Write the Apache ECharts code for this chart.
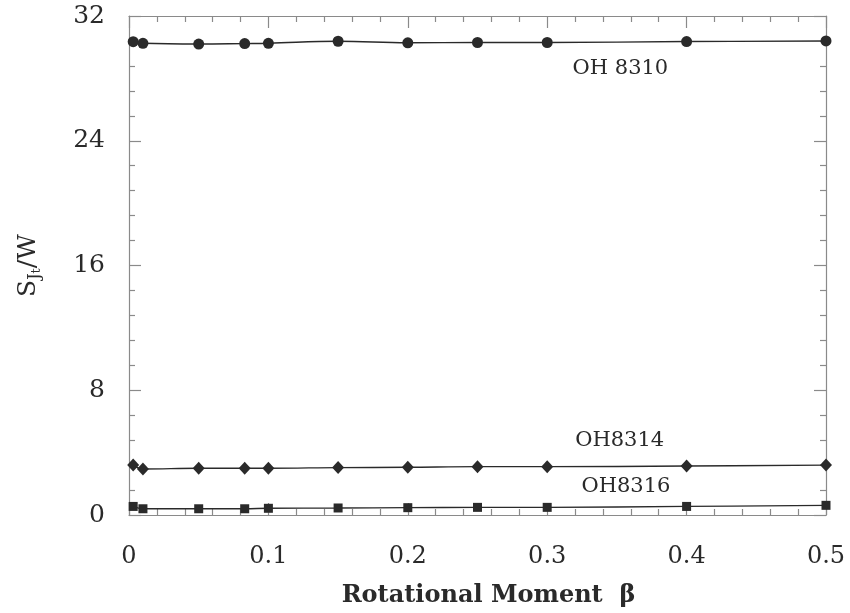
<!DOCTYPE html>
<html>
<head>
<meta charset="utf-8">
<script src="https://cdn.jsdelivr.net/npm/echarts@6/dist/echarts.min.js"></script>
<style>html,body{margin:0;padding:0;background:#fff;}#c{width:850px;height:613px;}</style>
</head>
<body>
<div id="c"></div>
<script>
// Data
const betaValues = [0.003, 0.01, 0.05, 0.083, 0.1, 0.15, 0.2, 0.25, 0.3, 0.4, 0.5];
const oh8310 = [30.35, 30.25, 30.2, 30.23, 30.25, 30.38, 30.28, 30.3, 30.3, 30.36, 30.4];
const oh8314 = [3.2, 2.95, 3.0, 3.0, 3.0, 3.04, 3.06, 3.1, 3.1, 3.14, 3.2];
const oh8316 = [0.55, 0.4, 0.4, 0.4, 0.43, 0.45, 0.47, 0.49, 0.49, 0.55, 0.62];
const seriesNames = ['OH 8310', 'OH8314', 'OH8316'];
const xTickLabels = ['0', '0.1', '0.2', '0.3', '0.4', '0.5'];
const yTickLabels = ['0', '8', '16', '24', '32'];

const FONT = 'DejaVu Serif';
const INK = '#2a2a2a';
const AXIS = '#8a8a8a';

function pairs(ys) { return betaValues.map((x, i) => [x, ys[i]]); }

function axisParts() {
  return {
    axisLine: { show: true, onZero: false, lineStyle: { color: AXIS, width: 1.2 } },
    axisTick: { show: true, inside: true, length: 12, lineStyle: { color: AXIS, width: 1.2 } },
    minorTick: { show: true, splitNumber: 5, length: 6, lineStyle: { color: AXIS, width: 1.2 } },
    splitLine: { show: false },
    minorSplitLine: { show: false }
  };
}

function xAxisDef(extra) {
  return Object.assign(axisParts(), { type: 'value', min: 0, max: 0.5, interval: 0.1 }, extra);
}
function yAxisDef(extra) {
  return Object.assign(axisParts(), { type: 'value', min: 0, max: 32, interval: 8 }, extra);
}

function labelMark(text, coord) {
  return {
    symbol: 'circle', symbolSize: 0,
    label: { show: true, position: 'inside', formatter: text, fontFamily: FONT, fontSize: 21, color: INK },
    data: [{ coord: coord }]
  };
}

function lineSeries(name, ys, symbol, size, labelCoord) {
  return {
    name: name, type: 'line', data: pairs(ys), smooth: 0.4,
    symbol: symbol, symbolSize: size, showSymbol: true,
    xAxisIndex: 0, yAxisIndex: 0,
    lineStyle: { color: INK, width: 1.4 },
    itemStyle: { color: INK },
    emphasis: { disabled: true },
    markPoint: labelMark(name, labelCoord),
    z: 3
  };
}

const chart = echarts.init(document.getElementById('c'), null, { renderer: 'canvas' });
chart.setOption({
  animation: false,
  backgroundColor: '#ffffff',
  grid: { left: 129, right: 24, top: 16, bottom: 96 },
  xAxis: [
    xAxisDef({
      position: 'bottom',
      name: 'Rotational Moment  β', nameLocation: 'middle', nameGap: 69,
      nameTextStyle: { fontFamily: FONT, fontWeight: 'bold', fontSize: 24, color: INK, padding: [0, 0, 0, 22] },
      axisLabel: { margin: 30, fontFamily: FONT, fontSize: 24, color: INK,
        formatter: (v) => xTickLabels[Math.round(v * 10)] }
    }),
    xAxisDef({ position: 'top', axisLabel: { show: false } })
  ],
  yAxis: [
    yAxisDef({
      position: 'left',
      name: '{s|S}{j|J}{t|t}{w|/W}', nameLocation: 'middle', nameGap: 86, nameRotate: 90,
      nameTextStyle: {
        fontFamily: FONT, color: INK,
        rich: {
          s: { fontFamily: FONT, fontSize: 25, color: INK, lineHeight: 30, verticalAlign: 'middle' },
          j: { fontFamily: FONT, fontSize: 16, color: INK, lineHeight: 12, verticalAlign: 'bottom' },
          t: { fontFamily: FONT, fontSize: 13, color: INK, lineHeight: 4, verticalAlign: 'bottom' },
          w: { fontFamily: FONT, fontSize: 25, color: INK, lineHeight: 30, verticalAlign: 'middle' }
        }
      },
      axisLabel: { margin: 24, fontFamily: FONT, fontSize: 25, color: INK,
        formatter: (v) => yTickLabels[Math.round(v / 8)] }
    }),
    yAxisDef({ position: 'right', axisLabel: { show: false } })
  ],
  series: [
    lineSeries(seriesNames[0], oh8310, 'circle', 11, [0.3525, 28.6]),
    lineSeries(seriesNames[1], oh8314, 'diamond', [12, 13], [0.352, 4.78]),
    lineSeries(seriesNames[2], oh8316, 'rect', 9, [0.3565, 1.85])
  ]
});
</script>
</body>
</html>
